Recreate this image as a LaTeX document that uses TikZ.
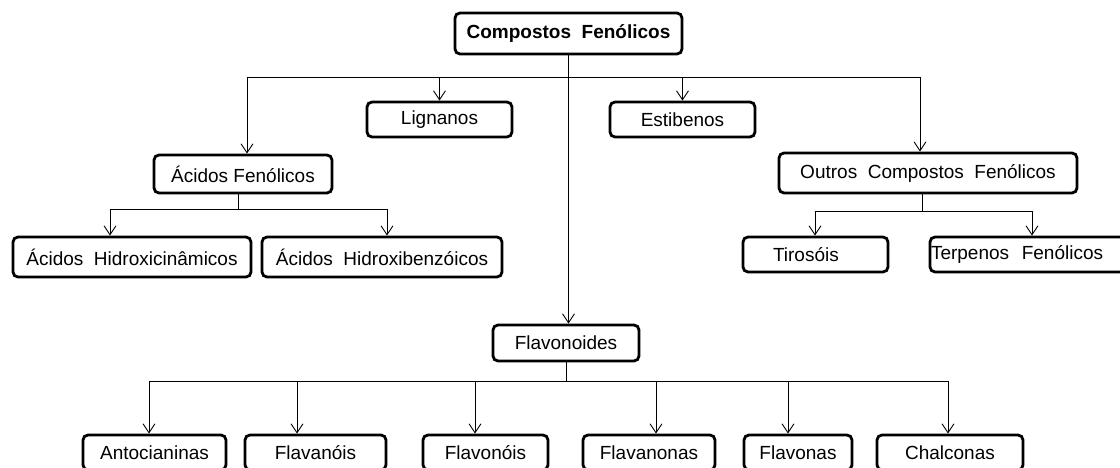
\documentclass[tikz,border=0pt]{standalone}
\usepackage{fontspec}
\setmainfont{Liberation Sans}
\usetikzlibrary{arrows.meta}
\begin{document}
\begin{tikzpicture}[x=1pt,y=-1pt,
  caixa/.style={draw,line width=2.8pt,rounded corners=5pt,inner sep=0pt,
    font=\fontsize{19}{22}\selectfont,minimum height=35pt},
  seta/.style={line width=0.9pt,-{Straight Barb[length=9pt,width=12pt]}},
  linha/.style={line width=0.9pt}]
\useasboundingbox (0,0) rectangle (1120,468);
\node[caixa,minimum width=227pt,minimum height=41pt,font=\fontsize{19}{22}\selectfont\bfseries] (top) at (568.5,33.5) {Compostos~~Fenólicos};
\node[caixa,minimum width=145pt] (lig) at (439.5,119.5) {Lignanos};
\node[caixa,minimum width=145pt] (est) at (682.5,119.5) {Estibenos};
\node[caixa,minimum width=178pt,minimum height=38pt] (acf) at (243,174) {Ácidos Fenólicos};
\node[caixa,minimum width=298pt,minimum height=40pt] (outros) at (928,173) {Outros~~Compostos~~Fenólicos};
\node[caixa,minimum width=238pt,minimum height=40pt] (ahc) at (132,257) {Ácidos~~Hidroxicinâmicos};
\node[caixa,minimum width=240pt,minimum height=40pt] (ahb) at (382,257) {Ácidos~~Hidroxibenzóicos};
\node[caixa,text width=85pt,inner xsep=30pt,align=left] (tir) at (815.5,254.5) {Tirosóis};
\node[caixa,text width=194pt,inner xsep=1pt,align=left] (terp) at (1028,254.5) {Terpenos~~Fenólicos};
\node[caixa,minimum width=146pt,minimum height=36pt] (flav) at (566,343) {Flavonoides};
\node[caixa,minimum width=143pt] (anto) at (154.5,452.5) {Antocianinas};
\node[caixa,minimum width=141pt] (flvn) at (315.5,452.5) {Flavanóis};
\node[caixa,minimum width=125pt] (flvl) at (485.5,452.5) {Flavonóis};
\node[caixa,minimum width=132pt] (flvnn) at (649,452.5) {Flavanonas};
\node[caixa,minimum width=108pt] (flvs) at (798,452.5) {Flavonas};
\node[caixa,minimum width=146pt] (chal) at (950,452.5) {Chalconas};
\coordinate (b1) at (247,77);
\coordinate (b2) at (920,77);
\draw[linha] (b1) -- (b2);
\draw[seta] (top.south) -- (top.south |- flav.north);
\draw[seta] (b1) -- (b1 |- acf.north);
\draw[seta] (lig.north |- b1) -- (lig.north);
\draw[seta] (est.north |- b1) -- (est.north);
\draw[seta] (b2) -- (b2 |- outros.north);
\coordinate (aj) at (238,209);
\coordinate (a1) at (110,209);
\coordinate (a2) at (387,209);
\draw[linha] (aj |- acf.south) -- (aj);
\draw[linha] (a1) -- (a2);
\draw[seta] (a1) -- (a1 |- ahc.north);
\draw[seta] (a2) -- (a2 |- ahb.north);
\coordinate (oj) at (922,211);
\coordinate (o1) at (815,211);
\coordinate (o2) at (1032,211);
\draw[linha] (oj |- outros.south) -- (oj);
\draw[linha] (o1) -- (o2);
\draw[seta] (o1) -- (o1 |- tir.north);
\draw[seta] (o2) -- (o2 |- terp.north);
\coordinate (fj) at (566,381);
\draw[linha] (flav.south) -- (fj);
\draw[linha] (149,381) coordinate (f1) -- (948,381) coordinate (f2);
\foreach \n/\x in {anto/149,flvn/297,flvl/475,flvnn/656,flvs/788,chal/948}{
  \coordinate (p) at (\x,381);
  \draw[seta] (p) -- (p |- \n.north);
}
\end{tikzpicture}
\end{document}
